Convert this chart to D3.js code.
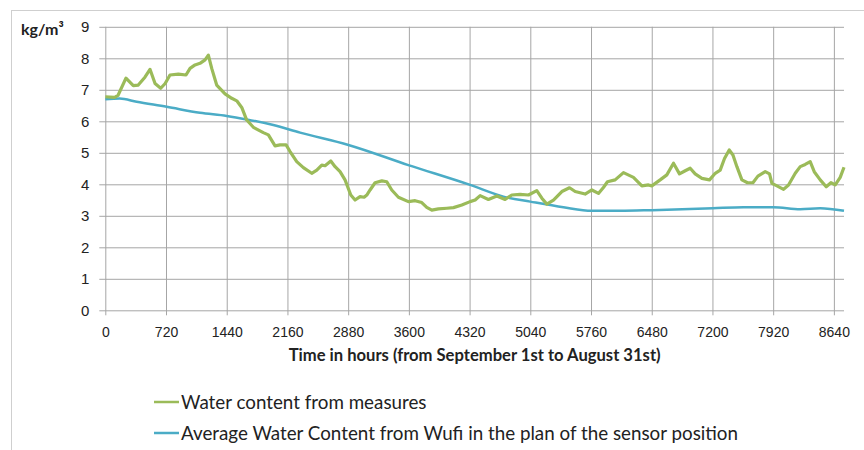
<!DOCTYPE html>
<html>
<head>
<meta charset="utf-8">
<script src="https://cdn.jsdelivr.net/npm/d3@7"></script>
<style>
  body { margin: 0; background: #fff; }
  svg { display: block; font-family: Lato, "Open Sans", sans-serif; }
</style>
</head>
<body>
<svg id="chart" width="864" height="450"></svg>
<script>
// measured water content (hours, kg/m3)
let measuredHours = [0, 110, 150, 245, 332, 391, 470, 530, 590, 657, 710, 767, 866, 957, 1005, 1064, 1123, 1183, 1222, 1262,
  1321, 1420, 1499, 1559, 1618, 1677, 1756, 1874, 1934, 2013, 2072, 2144, 2191, 2270, 2349, 2448, 2508, 2567, 2606, 2674,
  2725, 2784, 2843, 2911, 2962, 3021, 3069, 3101, 3140, 3199, 3279, 3338, 3397, 3476, 3594, 3674, 3753, 3812, 3872, 3950,
  4050, 4129, 4228, 4326, 4386, 4445, 4543, 4643, 4741, 4821, 4919, 5018, 5117, 5177, 5236, 5315, 5414, 5505, 5572, 5690,
  5770, 5848, 5907, 5955, 6046, 6145, 6263, 6363, 6441, 6481, 6580, 6659, 6738, 6809, 6877, 6936, 6995, 7075, 7165, 7233,
  7292, 7343, 7399, 7443, 7490, 7549, 7616, 7680, 7739, 7826, 7877, 7905, 7965, 8043, 8102, 8182, 8241, 8300, 8359, 8407,
  8478, 8549, 8605, 8656, 8715, 8760];
let measuredValues = [6.78, 6.76, 6.82, 7.37, 7.13, 7.15, 7.4, 7.65, 7.2, 7.05, 7.2, 7.47, 7.5, 7.47, 7.68, 7.79, 7.84, 7.95, 8.1, 7.68,
  7.15, 6.87, 6.73, 6.65, 6.44, 6.04, 5.81, 5.64, 5.57, 5.22, 5.25, 5.25, 5.04, 4.72, 4.53, 4.35, 4.45, 4.61, 4.59, 4.74,
  4.56, 4.4, 4.14, 3.66, 3.5, 3.61, 3.59, 3.66, 3.82, 4.05, 4.11, 4.08, 3.82, 3.59, 3.45, 3.48, 3.42, 3.27, 3.18, 3.22,
  3.24, 3.26, 3.34, 3.45, 3.5, 3.64, 3.52, 3.63, 3.52, 3.66, 3.68, 3.66, 3.8, 3.56, 3.37, 3.5, 3.77, 3.89, 3.77, 3.69,
  3.82, 3.71, 3.9, 4.08, 4.14, 4.37, 4.22, 3.95, 3.98, 3.95, 4.14, 4.3, 4.67, 4.33, 4.43, 4.51, 4.33, 4.19, 4.14, 4.35,
  4.45, 4.82, 5.09, 4.93, 4.56, 4.14, 4.05, 4.05, 4.26, 4.4, 4.33, 4.03, 3.95, 3.84, 3.98, 4.35, 4.56, 4.63, 4.72, 4.4,
  4.14, 3.92, 4.05, 3.98, 4.22, 4.54];

// Wufi simulation
let wufiHours = [0, 170, 372, 728, 1123, 1440, 1677, 1993, 2310, 2883, 3594, 4326, 4721, 5040, 5433, 5770, 6106, 6481, 7205, 7569, 7924, 8241, 8478, 8760];
let wufiValues = [6.70, 6.72, 6.62, 6.46, 6.27, 6.17, 6.06, 5.88, 5.64, 5.25, 4.61, 3.98, 3.61, 3.45, 3.27, 3.16, 3.16, 3.18, 3.24, 3.27, 3.27, 3.21, 3.24, 3.16];

let xTicks = d3.range(0, 8641, 720);
let yTicks = d3.range(0, 10);

let seriesNames = ["Water content from measures", "Average Water Content from Wufi in the plan of the sensor position"];
let colors = ["#9bbb59", "#4bacc6"];

let svg = d3.select("#chart");

// outer frame
svg.append("rect")
  .attr("x", 11.5).attr("y", 10.5)
  .attr("width", 900).attr("height", 500)
  .attr("fill", "none")
  .attr("stroke", "#cfcfcf");

let plotLeft = 105.3, plotRight = 844, plotTop = 26.8, plotBottom = 310.3;

let x = d3.scaleLinear().domain([0, 8760]).range([plotLeft, plotRight]);
let y = d3.scaleLinear().domain([0, 9]).range([plotBottom, plotTop]);

// horizontal grid + y ticks
let yAxis = svg.append("g")
  .attr("transform", `translate(${plotLeft},0)`)
  .call(d3.axisLeft(y).tickValues(yTicks).tickSize(6).tickPadding(10));
yAxis.select(".domain").remove();
yAxis.selectAll(".tick line")
  .attr("stroke", "#a6a6a6")
  .attr("x1", -6).attr("x2", plotRight - plotLeft);
yAxis.selectAll("text").attr("font-size", 15).attr("fill", "#222");

// vertical grid + x ticks
let xAxis = svg.append("g")
  .attr("transform", `translate(0,${plotBottom})`)
  .call(d3.axisBottom(x).tickValues(xTicks).tickSize(0).tickPadding(17).tickFormat(d3.format("d")));
xAxis.select(".domain").remove();
xAxis.selectAll(".tick line")
  .attr("stroke", "#a6a6a6")
  .attr("y1", 5).attr("y2", plotTop - plotBottom);
xAxis.selectAll("text").attr("font-size", 14).attr("fill", "#222");

let measured = measuredHours.map((h, i) => [h, measuredValues[i]]);
let wufi = wufiHours.map((h, i) => [h, wufiValues[i]]);

let line = d3.line().x(d => x(d[0])).y(d => y(d[1]));

svg.append("path")
  .attr("d", line.curve(d3.curveMonotoneX)(wufi))
  .attr("fill", "none")
  .attr("stroke", colors[1])
  .attr("stroke-width", 2.5);

svg.append("path")
  .attr("d", line.curve(d3.curveLinear)(measured))
  .attr("fill", "none")
  .attr("stroke", colors[0])
  .attr("stroke-width", 3.2)
  .attr("stroke-linejoin", "round");

// axis titles
svg.append("text")
  .attr("x", 21).attr("y", 35)
  .attr("font-size", 16).attr("font-weight", "bold")
  .attr("fill", "#222")
  .text("kg/m³");

svg.append("text")
  .attr("x", (plotLeft + plotRight) / 2).attr("y", 361)
  .attr("text-anchor", "middle")
  .attr("font-size", 16.6).attr("font-weight", "bold")
  .attr("fill", "#222")
  .text("Time in hours (from September 1st to August 31st)");

// legend
let legend = svg.append("g");
seriesNames.forEach((name, i) => {
  let ly = 402 + i * 31;
  legend.append("line")
    .attr("x1", 154).attr("x2", 179)
    .attr("y1", ly).attr("y2", ly)
    .attr("stroke", colors[i])
    .attr("stroke-width", 2.5);
  legend.append("text")
    .attr("x", 181).attr("y", ly + 6.5)
    .attr("font-size", 18.8)
    .attr("fill", "#222")
    .text(name);
});
</script>
</body>
</html>
